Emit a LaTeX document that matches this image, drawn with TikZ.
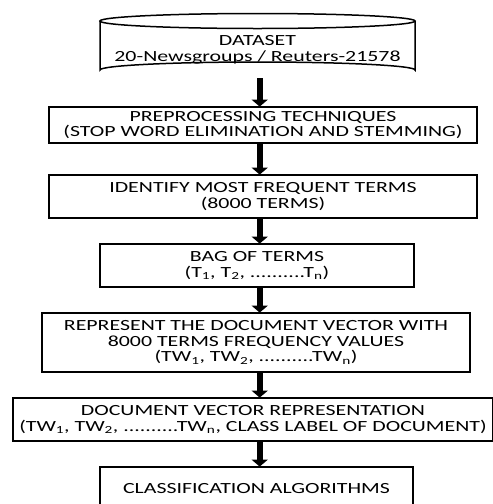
\documentclass[tikz,border=0pt]{standalone}
\usepackage{fontspec}
\setmainfont{Carlito}[FakeStretch=1.41]
\usetikzlibrary{arrows.meta}
\begin{document}
\begin{tikzpicture}[x=1pt,y=-1pt,
  box/.style={draw=black,line width=1.8pt,rectangle,inner sep=0pt,align=center,
    font=\fontsize{15.5}{15.5}\selectfont},
  lbl/.style={inner sep=0pt,align=center,font=\fontsize{15.5}{16.5}\selectfont},
  arr/.style={line width=6pt,-{Triangle[width=16pt,length=7pt]},shorten >=-0.5pt}]
\useasboundingbox (0,0) rectangle (493,504);
% cylinder
\draw[line width=1.5pt] (100,21) -- (100,70) arc[start angle=180,end angle=360,x radius=157.5,y radius=8] -- (415,21);
\draw[line width=1.5pt] (257.5,21) ellipse[x radius=157.5,y radius=7.5];
\coordinate (dsb) at (257.5,78);
\node[lbl] (ds) at (257.5,50) {DATASET\\20-Newsgroups / Reuters-21578};
\coordinate (axis) at (259.7,0);
% boxes
\node[box,minimum width=428pt,minimum height=36pt] (b2) at (263,125) {PREPROCESSING TECHNIQUES\\(STOP WORD ELIMINATION AND STEMMING)};
\node[box,minimum width=428pt,minimum height=43pt] (b3) at (263,196.5) {IDENTIFY MOST FREQUENT TERMS\\(8000 TERMS)};
\node[box,minimum width=314pt,minimum height=43pt] (b4) at (257,265.5) {BAG OF TERMS\\(T\textsubscript{1}, T\textsubscript{2}, ..........T\textsubscript{n})};
\node[box,minimum width=428pt,minimum height=59pt] (b5) at (256,342.5) {REPRESENT THE DOCUMENT VECTOR WITH\\8000 TERMS FREQUENCY VALUES\\(TW\textsubscript{1}, TW\textsubscript{2}, ..........TW\textsubscript{n})};
\node[box,minimum width=480pt,minimum height=43pt] (b6) at (253,419.5) {DOCUMENT VECTOR REPRESENTATION\\(TW\textsubscript{1}, TW\textsubscript{2}, ..........TW\textsubscript{n}, CLASS LABEL OF DOCUMENT)};
\node[box,minimum width=313pt,minimum height=43pt] (b7) at (256.5,488.5) {CLASSIFICATION ALGORITHMS};
% arrows
\draw[arr] (dsb -| axis) -- (b2.north -| axis);
\draw[arr] (b2.south -| axis) -- (b3.north -| axis);
\draw[arr] (b3.south -| axis) -- (b4.north -| axis);
\draw[arr] (b4.south -| axis) -- (b5.north -| axis);
\draw[arr] (b5.south -| axis) -- (b6.north -| axis);
\draw[arr] (b6.south -| axis) -- (b7.north -| axis);
\end{tikzpicture}
\end{document}
